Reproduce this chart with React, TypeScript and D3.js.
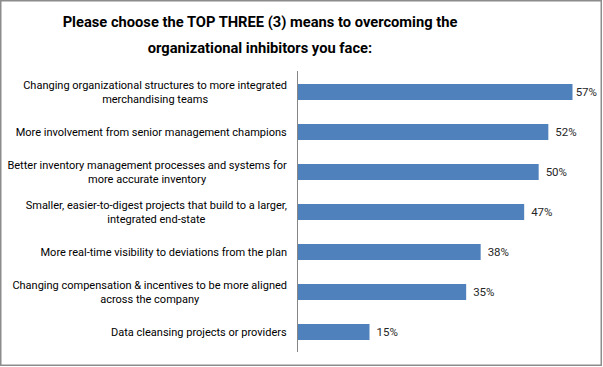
import React, { useEffect, useRef } from 'react';
import * as d3 from 'd3';

// category labels, already split the way the original wraps them
const categories: string[][] = [
  ['Changing organizational structures to more integrated', 'merchandising teams'],
  ['More involvement from senior management champions'],
  ['Better inventory management processes and systems for', 'more accurate inventory'],
  ['Smaller, easier-to-digest projects that build to a larger,', 'integrated end-state'],
  ['More real-time visibility to deviations from the plan'],
  ['Changing compensation & incentives to be more aligned', 'across the company'],
  ['Data cleansing projects or providers'],
];
const values = [0.57, 0.52, 0.5, 0.47, 0.38, 0.35, 0.15];
const titleLines = [
  'Please choose the TOP THREE (3) means to overcoming the',
  'organizational inhibitors you face:',
];

const W = 603;
const H = 367;
const FONT = 'Roboto, "Liberation Sans", sans-serif';

const App = () => {
  const svgRef = useRef<SVGSVGElement>(null);

  useEffect(() => {
    if (!svgRef.current) return;
    const svg = d3.select(svgRef.current);
    svg.selectAll('*').remove();

    const x = d3.scaleLinear().domain([0, 0.6]).range([297, 587]);
    const y = d3.scaleBand<number>()
      .domain(d3.range(categories.length))
      .range([72, 352])
      .paddingInner(0.6)
      .paddingOuter(0.3);

    // outer frame
    svg.append('rect')
      .attr('x', 0.75).attr('y', 0.75)
      .attr('width', W - 2.5).attr('height', H - 2.5)
      .attr('fill', '#fff')
      .attr('stroke', '#8c8c8c')
      .attr('stroke-width', 1.5);

    // title
    svg.append('g')
      .selectAll('text')
      .data(titleLines)
      .join('text')
      .attr('x', 260)
      .attr('y', (d, i) => 27 + i * 26)
      .attr('text-anchor', 'middle')
      .attr('font-family', FONT)
      .attr('font-weight', 'bold')
      .attr('font-size', 14.7)
      .attr('fill', '#000')
      .text(d => d);

    // bars
    svg.append('g')
      .selectAll('rect')
      .data(values)
      .join('rect')
      .attr('x', x(0))
      .attr('y', (d, i) => y(i)!)
      .attr('width', d => x(d) - x(0))
      .attr('height', y.bandwidth())
      .attr('fill', '#4f81bd');

    // category axis line
    svg.append('line')
      .attr('x1', x(0) + 0.5).attr('x2', x(0) + 0.5)
      .attr('y1', 71).attr('y2', 352)
      .attr('stroke', '#868686')
      .attr('stroke-width', 1);

    // category labels, lines centred on each other, block right aligned
    categories.forEach((lines, i) => {
      const cy = y(i)! + y.bandwidth() / 2;
      const g = svg.append('g');
      g.selectAll('text')
        .data(lines)
        .join('text')
        .attr('x', 0)
        .attr('y', (d, j) => (j - (lines.length - 1) / 2) * 14)
        .attr('dy', '0.35em')
        .attr('text-anchor', 'middle')
        .attr('font-family', FONT)
        .attr('font-size', 11)
        .attr('fill', '#000')
        .text(d => d);
      const bb = (g.node() as SVGGElement).getBBox();
      g.attr('transform', `translate(${287 - bb.x - bb.width},${cy})`);
    });

    // value labels
    values.forEach((v, i) => {
      const t = svg.append('text')
        .attr('y', y(i)! + y.bandwidth() / 2)
        .attr('dy', '0.35em')
        .attr('font-family', FONT)
        .attr('font-size', 11.5)
        .attr('fill', '#262626')
        .text(d3.format('.0%')(v));
      const w = (t.node() as SVGTextElement).getComputedTextLength();
      t.attr('x', Math.min(x(v) + 7, 597 - w));
    });
  }, []);

  return (
    <svg
      ref={svgRef}
      width={W}
      height={H}
      style={{ position: 'absolute', left: 0, top: 0, background: '#fff' }}
    />
  );
};

export default App;
